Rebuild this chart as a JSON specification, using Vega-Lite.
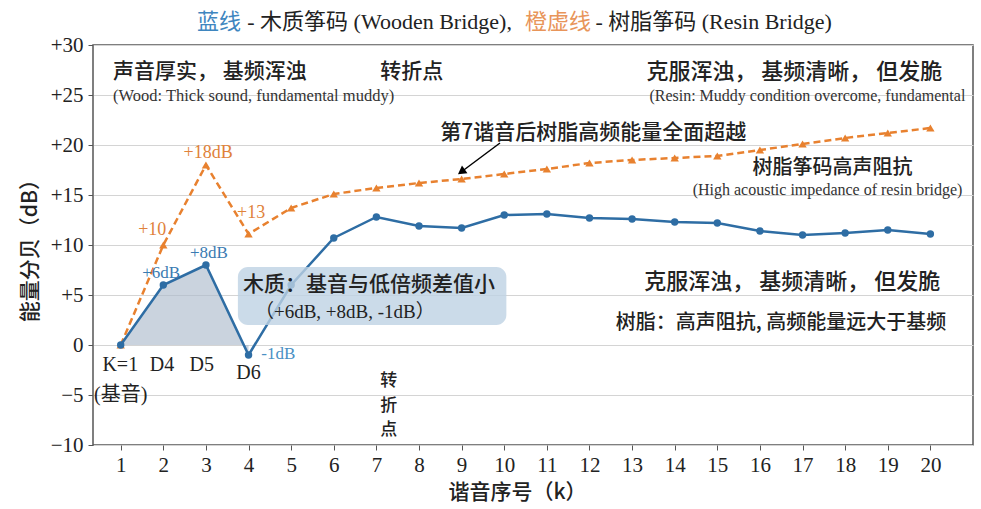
{
  "$schema": "https://vega.github.io/schema/vega-lite/v6.json",
  "width": 880,
  "height": 400,
  "autosize": {"type": "none"},
  "padding": {"left": 93, "top": 45, "right": 8, "bottom": 64},
  "background": "white",
  "datasets": {
    "wood": [
      {"k": 1, "db": 0}, {"k": 2, "db": 6}, {"k": 3, "db": 8}, {"k": 4, "db": -1},
      {"k": 5, "db": 6}, {"k": 6, "db": 10.7}, {"k": 7, "db": 12.8}, {"k": 8, "db": 11.9},
      {"k": 9, "db": 11.7}, {"k": 10, "db": 13.0}, {"k": 11, "db": 13.1}, {"k": 12, "db": 12.7},
      {"k": 13, "db": 12.6}, {"k": 14, "db": 12.3}, {"k": 15, "db": 12.2}, {"k": 16, "db": 11.4},
      {"k": 17, "db": 11.0}, {"k": 18, "db": 11.2}, {"k": 19, "db": 11.5}, {"k": 20, "db": 11.1}
    ],
    "resin": [
      {"k": 1, "db": 0}, {"k": 2, "db": 10}, {"k": 3, "db": 18}, {"k": 4, "db": 11.1},
      {"k": 5, "db": 13.7}, {"k": 6, "db": 15.1}, {"k": 7, "db": 15.7}, {"k": 8, "db": 16.2},
      {"k": 9, "db": 16.6}, {"k": 10, "db": 17.1}, {"k": 11, "db": 17.6}, {"k": 12, "db": 18.2},
      {"k": 13, "db": 18.5}, {"k": 14, "db": 18.7}, {"k": 15, "db": 18.9}, {"k": 16, "db": 19.5},
      {"k": 17, "db": 20.1}, {"k": 18, "db": 20.7}, {"k": 19, "db": 21.2}, {"k": 20, "db": 21.7}
    ]
  },
  "layer": [
    {
      "data": {"name": "wood"},
      "transform": [{"filter": "datum.k <= 4"}],
      "mark": {"type": "area", "color": "#aebbcc", "opacity": 0.65},
      "encoding": {
        "x": {
          "field": "k", "type": "quantitative",
          "scale": {"domain": [0.35, 21.0], "nice": false, "zero": false},
          "axis": {"values": [1,2,3,4,5,6,7,8,9,10,11,12,13,14,15,16,17,18,19,20], "grid": false, "title": "谐音序号（k）", "titleY": 36, "titleX": 424}
        },
        "y": {
          "field": "db", "type": "quantitative",
          "scale": {"domain": [-10, 30], "nice": false, "zero": false},
          "axis": {
            "values": [-10,-5,0,5,10,15,20,25,30],
            "grid": true,
            "title": "能量分贝（dB）",
            "labelExpr": "datum.value > 0 ? '+' + datum.value : (datum.value < 0 ? '−' + (-datum.value) : '0')"
          }
        },
        "y2": {"datum": 0}
      }
    },
    {
      "mark": {"type": "rule", "color": "#8a8a8a", "strokeWidth": 1.5},
      "encoding": {"y": {"datum": 0}}
    },
    {
      "mark": {"type": "rule", "color": "#4a4a4a", "strokeWidth": 1.5},
      "encoding": {"x": {"datum": 7}}
    },
    {
      "data": {"name": "resin"},
      "mark": {"type": "line", "color": "#e8812f", "strokeWidth": 2.5, "strokeDash": [7, 4]},
      "encoding": {
        "x": {"field": "k", "type": "quantitative"},
        "y": {"field": "db", "type": "quantitative"}
      }
    },
    {
      "data": {"name": "resin"},
      "mark": {"type": "point", "shape": "triangle-up", "filled": true, "color": "#e8812f", "size": 70, "opacity": 1},
      "encoding": {
        "x": {"field": "k", "type": "quantitative"},
        "y": {"field": "db", "type": "quantitative"}
      }
    },
    {
      "data": {"name": "wood"},
      "mark": {"type": "line", "color": "#2e6da4", "strokeWidth": 2.5},
      "encoding": {
        "x": {"field": "k", "type": "quantitative"},
        "y": {"field": "db", "type": "quantitative"}
      }
    },
    {
      "data": {"name": "wood"},
      "mark": {"type": "point", "shape": "circle", "filled": true, "color": "#2e6da4", "size": 55, "opacity": 1},
      "encoding": {
        "x": {"field": "k", "type": "quantitative"},
        "y": {"field": "db", "type": "quantitative"}
      }
    },
    {
      "data": {"values": [{"k": 3.75, "k2": 10.05, "db": 7.8, "db2": 2.0}]},
      "mark": {"type": "rect", "color": "#bed2e3", "opacity": 0.8, "cornerRadius": 10},
      "encoding": {
        "x": {"field": "k", "type": "quantitative"},
        "x2": {"field": "k2"},
        "y": {"field": "db", "type": "quantitative"},
        "y2": {"field": "db2"}
      }
    },
    {
      "data": {"values": [{"k": 9.9, "k2": 9.02, "db": 20.2, "db2": 17.4}]},
      "mark": {"type": "rule", "color": "black", "strokeWidth": 1.5},
      "encoding": {
        "x": {"field": "k", "type": "quantitative"},
        "x2": {"field": "k2"},
        "y": {"field": "db", "type": "quantitative"},
        "y2": {"field": "db2"}
      }
    },
    {
      "data": {"values": [{"k": 9.02, "db": 17.4}]},
      "mark": {"type": "point", "shape": "triangle", "filled": true, "color": "black", "size": 90, "angle": 235, "opacity": 1},
      "encoding": {
        "x": {"field": "k", "type": "quantitative"},
        "y": {"field": "db", "type": "quantitative"}
      }
    },
    {
      "data": {"values": [
        {"k": 0.82, "db": 27.3, "t": "声音厚实， 基频浑浊"},
        {"k": 7.09, "db": 27.3, "t": "转折点"},
        {"k": 3.87, "db": 6.0, "t": "木质：基音与低倍频差值小"},
        {"k": 8.5, "db": 21.2, "t": "第7谐音后树脂高频能量全面超越"}
      ]},
      "mark": {"type": "text", "align": "left", "baseline": "middle", "font": "Noto Sans CJK SC", "fontSize": 21, "fontWeight": 500, "color": "#222222"},
      "encoding": {
        "x": {"field": "k", "type": "quantitative"},
        "y": {"field": "db", "type": "quantitative"},
        "text": {"field": "t"}
      }
    },
    {
      "data": {"values": [
        {"k": 20.28, "db": 27.3, "t": "克服浑浊， 基频清晰， 但发脆"},
        {"k": 20.23, "db": 6.3, "t": "克服浑浊， 基频清晰， 但发脆"}
      ]},
      "mark": {"type": "text", "align": "right", "baseline": "middle", "font": "Noto Sans CJK SC", "fontSize": 22, "fontWeight": 500, "color": "#222222"},
      "encoding": {
        "x": {"field": "k", "type": "quantitative"},
        "y": {"field": "db", "type": "quantitative"},
        "text": {"field": "t"}
      }
    },
    {
      "data": {"values": [
        {"k": 19.58, "db": 17.7, "t": "树脂筝码高声阻抗"}
      ]},
      "mark": {"type": "text", "align": "right", "baseline": "middle", "font": "Noto Sans CJK SC", "fontSize": 20, "fontWeight": 500, "color": "#222222"},
      "encoding": {
        "x": {"field": "k", "type": "quantitative"},
        "y": {"field": "db", "type": "quantitative"},
        "text": {"field": "t"}
      }
    },
    {
      "data": {"values": [
        {"k": 20.37, "db": 2.2, "t": "树脂：高声阻抗, 高频能量远大于基频"}
      ]},
      "mark": {"type": "text", "align": "right", "baseline": "middle", "font": "Noto Sans CJK SC", "fontSize": 20, "fontWeight": 500, "color": "#222222"},
      "encoding": {
        "x": {"field": "k", "type": "quantitative"},
        "y": {"field": "db", "type": "quantitative"},
        "text": {"field": "t"}
      }
    },
    {
      "data": {"values": [
        {"k": 7.09, "db": -3.6, "t": "转"},
        {"k": 7.09, "db": -6.05, "t": "折"},
        {"k": 7.09, "db": -8.5, "t": "点"}
      ]},
      "mark": {"type": "text", "align": "left", "baseline": "middle", "font": "Noto Sans CJK SC", "fontSize": 17, "fontWeight": 500, "color": "#222222"},
      "encoding": {
        "x": {"field": "k", "type": "quantitative"},
        "y": {"field": "db", "type": "quantitative"},
        "text": {"field": "t"}
      }
    },
    {
      "data": {"values": [
        {"k": 0.82, "db": 24.9, "t": "(Wood: Thick sound, fundamental muddy)"}
      ]},
      "mark": {"type": "text", "align": "left", "baseline": "middle", "font": "Liberation Serif", "fontSize": 16.5, "color": "#333333"},
      "encoding": {
        "x": {"field": "k", "type": "quantitative"},
        "y": {"field": "db", "type": "quantitative"},
        "text": {"field": "t"}
      }
    },
    {
      "data": {"values": [
        {"k": 20.82, "db": 24.9, "t": "(Resin: Muddy condition overcome, fundamental"},
        {"k": 20.75, "db": 15.5, "t": "(High acoustic impedance of resin bridge)"}
      ]},
      "mark": {"type": "text", "align": "right", "baseline": "middle", "font": "Liberation Serif", "fontSize": 16, "color": "#333333"},
      "encoding": {
        "x": {"field": "k", "type": "quantitative"},
        "y": {"field": "db", "type": "quantitative"},
        "text": {"field": "t"}
      }
    },
    {
      "data": {"values": [
        {"k": 4.15, "db": 3.3, "t": "（+6dB, +8dB, -1dB）"}
      ]},
      "mark": {"type": "text", "align": "left", "baseline": "middle", "font": "Liberation Serif, Noto Sans CJK SC", "fontSize": 19, "color": "#222222"},
      "encoding": {
        "x": {"field": "k", "type": "quantitative"},
        "y": {"field": "db", "type": "quantitative"},
        "text": {"field": "t"}
      }
    },
    {
      "data": {"values": [
        {"k": 0.99, "db": -2.0, "t": "K=1"},
        {"k": 1.97, "db": -2.0, "t": "D4"},
        {"k": 2.9, "db": -2.0, "t": "D5"},
        {"k": 4.0, "db": -2.8, "t": "D6"},
        {"k": 1.0, "db": -5.0, "t": "(基音)"}
      ]},
      "mark": {"type": "text", "align": "center", "baseline": "middle", "font": "Liberation Serif, Noto Sans CJK SC", "fontSize": 20, "color": "#222222"},
      "encoding": {
        "x": {"field": "k", "type": "quantitative"},
        "y": {"field": "db", "type": "quantitative"},
        "text": {"field": "t"}
      }
    },
    {
      "data": {"values": [
        {"k": 1.95, "db": 7.2, "t": "+6dB"},
        {"k": 3.07, "db": 9.2, "t": "+8dB"}
      ]},
      "mark": {"type": "text", "align": "center", "baseline": "middle", "font": "Liberation Serif", "fontSize": 17, "color": "#3a7bb2"},
      "encoding": {
        "x": {"field": "k", "type": "quantitative"},
        "y": {"field": "db", "type": "quantitative"},
        "text": {"field": "t"}
      }
    },
    {
      "data": {"values": [
        {"k": 4.3, "db": -0.9, "t": "-1dB"}
      ]},
      "mark": {"type": "text", "align": "left", "baseline": "middle", "font": "Liberation Serif", "fontSize": 17, "color": "#4a90c4"},
      "encoding": {
        "x": {"field": "k", "type": "quantitative"},
        "y": {"field": "db", "type": "quantitative"},
        "text": {"field": "t"}
      }
    },
    {
      "data": {"values": [
        {"k": 1.74, "db": 11.5, "t": "+10"},
        {"k": 3.05, "db": 19.2, "t": "+18dB"},
        {"k": 4.06, "db": 13.2, "t": "+13"}
      ]},
      "mark": {"type": "text", "align": "center", "baseline": "middle", "font": "Liberation Serif", "fontSize": 18, "color": "#e0823a"},
      "encoding": {
        "x": {"field": "k", "type": "quantitative"},
        "y": {"field": "db", "type": "quantitative"},
        "text": {"field": "t"}
      }
    },
    {
      "data": {"values": [
        {"k": 2.79, "db": 32.3, "t": "蓝线", "part": "blue"},
        {"k": 3.97, "db": 32.3, "t": "- 木质筝码 (Wooden Bridge),", "part": "dark"},
        {"k": 10.49, "db": 32.3, "t": "橙虚线", "part": "orange"},
        {"k": 12.14, "db": 32.3, "t": "- 树脂筝码 (Resin Bridge)", "part": "dark"}
      ]},
      "mark": {"type": "text", "align": "left", "baseline": "middle", "font": "Liberation Serif, Noto Sans CJK SC", "fontSize": 22},
      "encoding": {
        "x": {"field": "k", "type": "quantitative"},
        "y": {"field": "db", "type": "quantitative"},
        "text": {"field": "t"},
        "color": {
          "field": "part", "type": "nominal", "legend": null,
          "scale": {"domain": ["blue", "dark", "orange"], "range": ["#3f86bf", "#222222", "#e8955a"]}
        }
      }
    }
  ],
  "config": {
    "view": {"stroke": "#555555", "strokeWidth": 1.5},
    "axis": {
      "labelFont": "Liberation Serif",
      "labelFontSize": 21,
      "labelColor": "#222222",
      "titleFont": "Noto Sans CJK SC",
      "titleFontSize": 21,
      "titleFontWeight": 500,
      "titleColor": "#222222",
      "domain": false,
      "tickColor": "#555555",
      "tickSize": 5,
      "gridColor": "#d4d4d4",
      "gridWidth": 1
    },
    "axisX": {"labelPadding": 4},
    "axisY": {"labelPadding": 5, "titlePadding": 10}
  }
}
